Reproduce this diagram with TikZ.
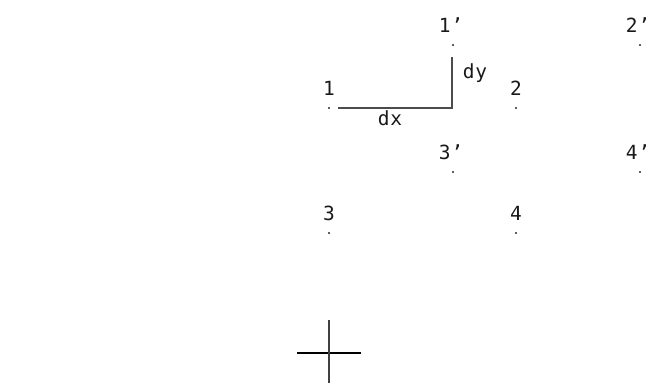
\documentclass[tikz,border=0pt]{standalone}
\usepackage{fontspec}
\newfontfamily\plotfont[LetterSpace=4]{DejaVu Sans Mono}
\begin{document}
\begin{tikzpicture}[x=1pt,y=-1pt,
  pt/.style={circle,fill=black!85,inner sep=0pt,minimum size=2.4pt},
  lbl/.style={font=\plotfont\fontsize{19.5}{22}\selectfont,anchor=base,inner sep=0pt,text=black!90},
  ln/.style={line width=1.5pt,draw=black!70}]
\useasboundingbox (0,0) rectangle (650,383);
% points
\node[pt] (p1) at (329,108) {};
\node[pt] (p2) at (516,108) {};
\node[pt] (p3) at (329,233) {};
\node[pt] (p4) at (516,233) {};
\node[pt] (q1) at (453,45) {};
\node[pt] (q2) at (640,45) {};
\node[pt] (q3) at (453,172) {};
\node[pt] (q4) at (640,172) {};
% labels
\node[lbl] (l1) at (329,95) {1};
\node[lbl] (l2) at (516,95) {2};
\node[lbl] (l3) at (329,220) {3};
\node[lbl] (l4) at (516,220) {4};
\node[lbl] (m1) at (451,32) {1’};
\node[lbl] (m2) at (638,32) {2’};
\node[lbl] (m3) at (451,159) {3’};
\node[lbl] (m4) at (638,159) {4’};
% dx / dy
\coordinate (a) at (338,108);
\coordinate (c) at (452,108);
\coordinate (b) at (452,57);
\draw[ln] (a) -- (c) -- (b);
\node[lbl] (dx) at (390,125) {dx};
\node[lbl] (dy) at (475,78) {dy};
% cross
\coordinate (hl) at (297,353);
\coordinate (hr) at (361,353);
\coordinate (vt) at (329,320);
\coordinate (vb) at (329,383);
\draw[line width=1.6pt,draw=black] (hl) -- (hr);
\draw[line width=1.6pt,draw=black!75] (vt) -- (vb);
\end{tikzpicture}
\end{document}
